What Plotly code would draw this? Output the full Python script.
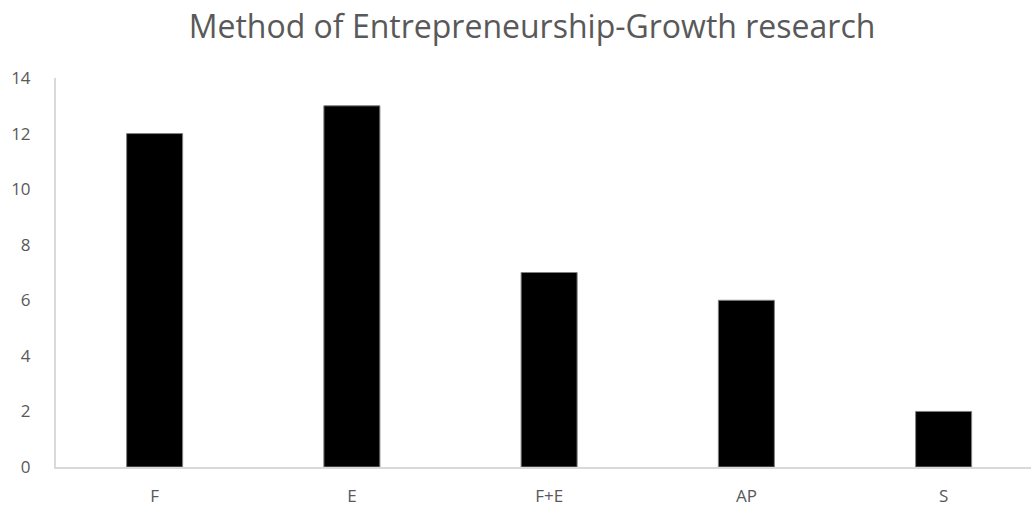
import plotly.graph_objects as go

categories = ["F", "E", "F+E", "AP", "S"]
values = [12, 13, 7, 6, 2]
y_ticks = [0, 2, 4, 6, 8, 10, 12, 14]

fig = go.Figure(go.Bar(
    x=list(range(len(categories))),
    y=values,
    width=0.284,
    marker=dict(color="#000000", line=dict(color="#808080", width=1)),
))

fig.update_layout(
    width=1031, height=509,
    margin=dict(l=56, r=0, t=78, b=42),
    paper_bgcolor="white", plot_bgcolor="white",
    showlegend=False,
    title=dict(text="Method of Entrepreneurship-Growth research",
               x=0.516, xanchor="center", y=0.948, yanchor="middle",
               font=dict(family="Open Sans", size=32, color="#595959")),
    font=dict(family="Open Sans", size=17, color="#595959"),
)
fig.update_xaxes(
    tickmode="array", tickvals=list(range(len(categories))), ticktext=categories,
    range=[-0.5, 4.443], showgrid=False, zeroline=False, automargin=False,
    showline=True, linecolor="#d9d9d9", linewidth=2, ticks="",
    ticklabelstandoff=13, tickfont=dict(size=17, color="#595959"),
)
fig.update_yaxes(
    range=[0, 14], tickvals=y_ticks, showgrid=False, zeroline=False, automargin=False,
    showline=True, linecolor="#d9d9d9", linewidth=2, ticks="",
    ticklabelstandoff=20, tickfont=dict(size=17, color="#595959"),
)

fig.write_html("out.html", config={"displayModeBar": False},
               post_script="document.body.style.margin='0';")
